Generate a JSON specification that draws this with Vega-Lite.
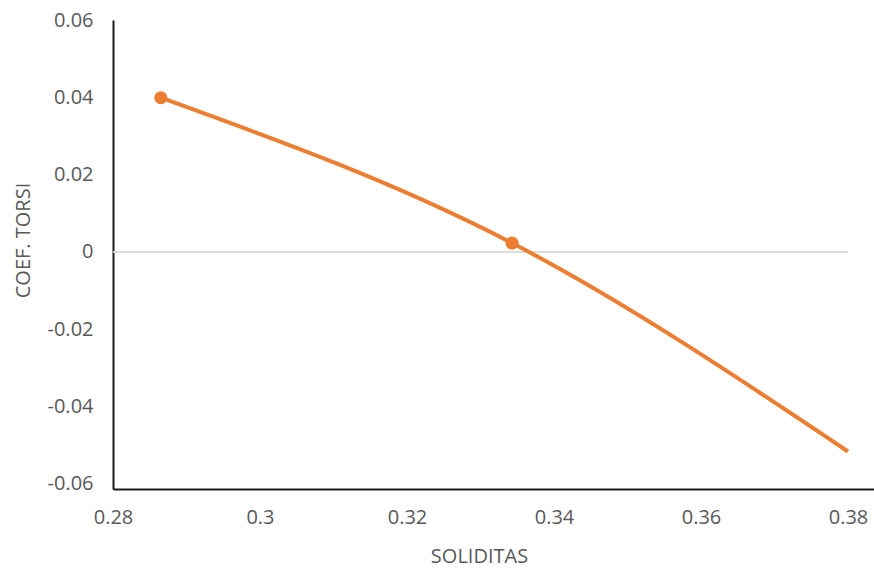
{
  "$schema": "https://vega.github.io/schema/vega-lite/v6.json",
  "width": 761,
  "height": 469,
  "autosize": {"type": "none"},
  "padding": {"left": 113, "top": 20, "right": 0, "bottom": 85},
  "background": "white",
  "config": {
    "view": {"stroke": null},
    "font": "Open Sans",
    "axis": {
      "grid": false, "ticks": false,
      "domainColor": "#1a1a1a", "domainWidth": 2,
      "labelFont": "Open Sans", "labelFontSize": 20, "labelColor": "#595959", "labelFlush": false,
      "titleFont": "Open Sans", "titleFontSize": 20, "titleColor": "#595959", "titleFontWeight": "normal"
    }
  },
  "data": {"values": [
    {"soliditas": 0.2865, "coef": 0.0399},
    {"soliditas": 0.3343, "coef": 0.0023},
    {"soliditas": 0.38, "coef": -0.0516}
  ]},
  "encoding": {
    "x": {
      "field": "soliditas", "type": "quantitative", "title": "SOLIDITAS",
      "scale": {"domain": [0.28, 0.38354], "nice": false, "zero": false},
      "axis": {
        "values": [0.28, 0.3, 0.32, 0.34, 0.36, 0.38],
        "labelExpr": "'' + datum.value",
        "labelPadding": 18, "titlePadding": 19, "titleX": 366
      }
    },
    "y": {
      "field": "coef", "type": "quantitative", "title": "COEF. TORSI",
      "scale": {"domain": [-0.0613, 0.06], "nice": false, "zero": false},
      "axis": {
        "values": [-0.06, -0.04, -0.02, 0, 0.02, 0.04, 0.06],
        "labelExpr": "'' + datum.value",
        "labelPadding": 20, "titlePadding": 14, "titleY": 220
      }
    }
  },
  "layer": [
    {
      "mark": {"type": "rule", "color": "#d9d9d9", "strokeWidth": 1},
      "encoding": {
        "x": {"datum": 0.28, "type": "quantitative"},
        "x2": {"datum": 0.38},
        "y": {"datum": 0, "type": "quantitative"}
      }
    },
    {"mark": {"type": "line", "color": "#ED7D31", "strokeWidth": 4, "interpolate": "monotone"}},
    {
      "transform": [{"filter": "datum.soliditas < 0.37"}],
      "mark": {"type": "point", "filled": true, "opacity": 1, "color": "#ED7D31", "size": 170}
    }
  ]
}
